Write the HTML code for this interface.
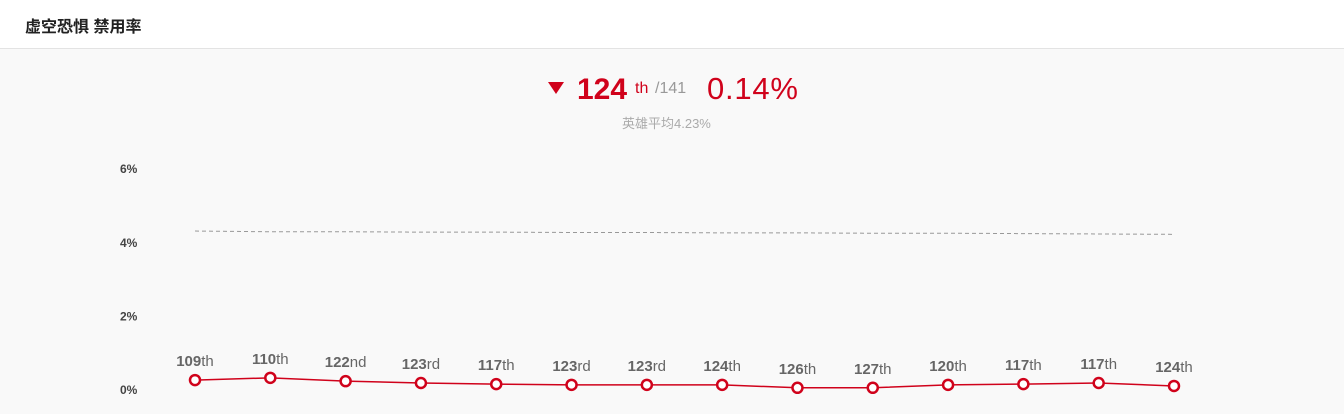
<!DOCTYPE html>
<html><head><meta charset="utf-8"><style>
body{margin:0;width:1344px;height:414px;overflow:hidden;background:#f9f9f9;font-family:"Liberation Sans","Noto Sans CJK SC",sans-serif;}
.hdr{position:absolute;left:0;top:0;width:1344px;height:48px;background:#fff;border-bottom:1px solid #e3e3e3;}
.hdr span{position:absolute;left:25px;top:13px;font-size:16px;font-weight:bold;color:#222;}
.sum{position:absolute;top:68px;left:0;width:1344px;height:40px;}
</style></head><body>
<div class="hdr"><span>虚空恐惧 禁用率</span></div>
<div class="sum">
<svg width="1344" height="70" style="position:absolute;left:0;top:0">
<polygon points="548,82 564,82 556,94" transform="translate(0,-68)" fill="#d0021b"/>
<text x="577" y="31" font-size="30" font-weight="bold" fill="#d0021b">124</text>
<text x="635" y="25" font-size="16" fill="#d0021b">th</text>
<text x="655" y="25" font-size="16" fill="#999">/141</text>
<text x="707" y="31" font-size="31" fill="#d0021b" textLength="91">0.14%</text>
<text x="622" y="60" font-size="13" fill="#aaa">英雄平均4.23%</text>
</svg></div>
<svg id="c" width="1344" height="414" style="position:absolute;left:0;top:0"></svg>
<script>
const ticks=[0,2,4,6];
const rates=[0.27,0.33,0.24,0.19,0.16,0.14,0.14,0.14,0.06,0.06,0.14,0.16,0.19,0.11];
const ranks=["109th","110th","122nd","123rd","117th","123rd","123rd","124th","126th","127th","120th","117th","117th","124th"];
const avg=[4.32,4.3,4.3,4.29,4.29,4.28,4.28,4.27,4.27,4.26,4.26,4.25,4.24,4.23];
const s=document.getElementById('c'),NS='http://www.w3.org/2000/svg';
const y=v=>390-v*36.8, x=i=>195+i*(1174-195)/(rates.length-1);
function mk(t,a,p){const e=document.createElementNS(NS,t);for(const k in a)e.setAttribute(k,a[k]);(p||s).appendChild(e);return e;}
ticks.forEach(t=>{const e=mk('text',{x:120,y:y(t)+4,'font-size':12,'font-weight':'bold',fill:'#444'});e.textContent=t+'%';

});
const al=mk('polyline',{points:avg.map((v,i)=>x(i)+','+y(v)).join(' '),fill:'none',stroke:'#999','stroke-dasharray':'4,3'});


const ln=mk('polyline',{points:rates.map((v,i)=>x(i)+','+y(v)).join(' '),fill:'none',stroke:'#d0021b','stroke-width':1.5});


rates.forEach((v,i)=>{const c=mk('circle',{cx:x(i),cy:y(v),r:5,fill:'#fff',stroke:'#d0021b','stroke-width':2.5});


const m=ranks[i].match(/(\d+)(\D+)/);
const t=mk('text',{x:x(i),y:y(v)-14,'text-anchor':'middle','font-size':15,fill:'#666'});


const a=mk('tspan',{'font-weight':'bold'},t);a.textContent=m[1];const b=mk('tspan',{},t);b.textContent=m[2];});
</script>
</body></html>
